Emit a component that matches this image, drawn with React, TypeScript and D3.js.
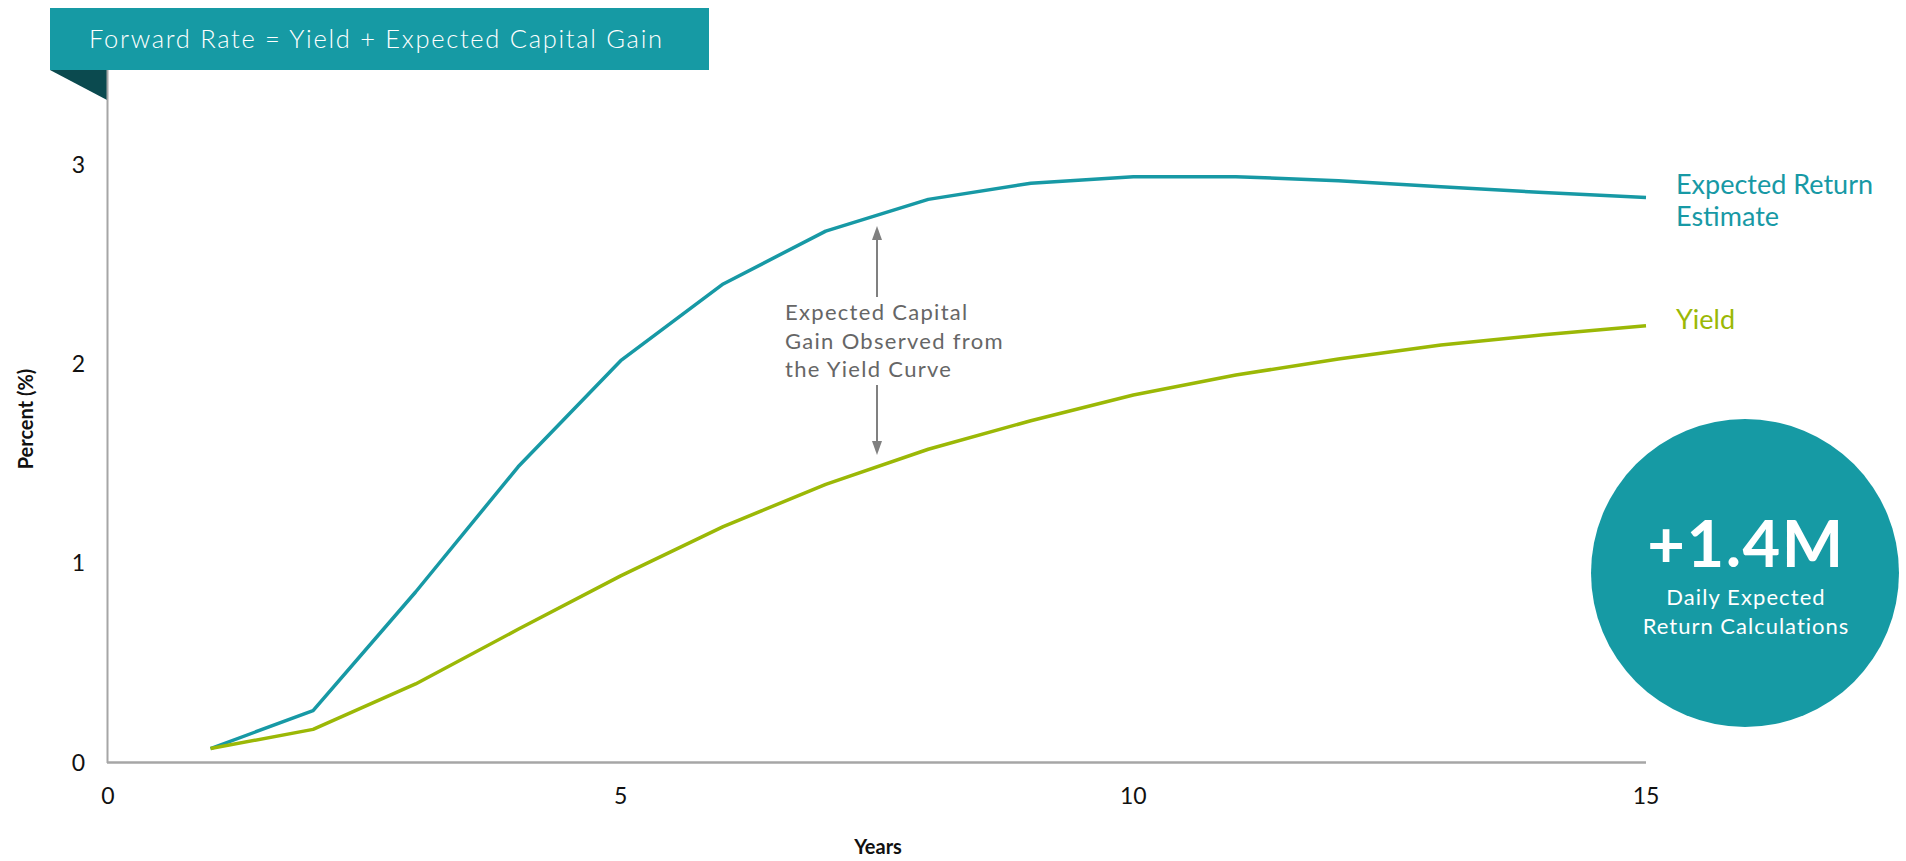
import * as d3 from "d3";

const years = [1, 2, 3, 4, 5, 6, 7, 8, 9, 10, 11, 12, 13, 14, 15];
const expectedReturn = [0.07, 0.26, 0.855, 1.483, 2.015, 2.4, 2.665, 2.824, 2.905, 2.938, 2.938, 2.918, 2.888, 2.858, 2.833];
const yieldCurve = [0.07, 0.166, 0.394, 0.668, 0.936, 1.183, 1.395, 1.571, 1.714, 1.843, 1.943, 2.024, 2.094, 2.145, 2.19];
const xTicks = [0, 5, 10, 15];
const yTicks = [0, 1, 2, 3];

const W = 1906;
const H = 861;
const teal = "#1799a5";
const green = "#9bb806";
const axisGrey = "#a6a6a6";
const font = "Lato, 'Open Sans', sans-serif";

export default function App() {
  const x = d3.scaleLinear().domain([0, 15]).range([108, 1646]);
  const y = d3.scaleLinear().domain([0, 3]).range([762.5, 164.3]);

  const line = d3
    .line<number>()
    .x((_, i) => x(years[i]))
    .y((d) => y(d));

  // arrow between the two curves
  const ax = x(7.5);
  const arrowTop = 226;
  const arrowBottom = 455;

  return (
    <svg
      width={W}
      height={H}
      style={{ position: "absolute", left: 0, top: 0, background: "#fff" }}
      fontFamily={font}
    >
      {/* title banner */}
      <rect x={50} y={8} width={659} height={62} fill="#169aa4" />
      <path d="M50,70 L107,70 L107,100 Z" fill="#0b4a4f" />
      <text x={89} y={48} fill="#fff" fontSize={25.5} fontWeight={300} letterSpacing={1.7}>
        Forward Rate = Yield + Expected Capital Gain
      </text>

      {/* axes */}
      <line x1={107.5} x2={107.5} y1={70} y2={763} stroke={axisGrey} strokeWidth={2} />
      <line x1={107} x2={1646} y1={762.5} y2={762.5} stroke={axisGrey} strokeWidth={2.5} />

      {yTicks.map((t) => (
        <text key={t} x={85} y={y(t)} dy="0.36em" textAnchor="end" fontSize={23} fill="#111">
          {t}
        </text>
      ))}
      {xTicks.map((t) => (
        <text key={t} x={x(t)} y={804} textAnchor="middle" fontSize={23} fill="#111">
          {t}
        </text>
      ))}

      <text x={878} y={854} textAnchor="middle" fontSize={20} fontWeight={700} fill="#111">
        Years
      </text>
      <text
        transform="translate(33,419) rotate(-90)"
        textAnchor="middle"
        fontSize={20}
        fontWeight={700}
        fill="#111"
      >
        Percent (%)
      </text>

      {/* series */}
      <path d={line(expectedReturn) ?? ""} fill="none" stroke={teal} strokeWidth={3.5} strokeLinejoin="round" />
      <path d={line(yieldCurve) ?? ""} fill="none" stroke={green} strokeWidth={3.5} strokeLinejoin="round" />

      <text x={1676} y={194} fill={teal} fontSize={27}>
        Expected Return
      </text>
      <text x={1676} y={226} fill={teal} fontSize={27}>
        Estimate
      </text>
      <text x={1676} y={329} fill={green} fontSize={27}>
        Yield
      </text>

      {/* annotation */}
      <g stroke="#808080" fill="#808080">
        <line x1={ax} x2={ax} y1={arrowTop + 12} y2={297} strokeWidth={2} />
        <path d={`M${ax},${arrowTop} L${ax - 5},${arrowTop + 14} L${ax + 5},${arrowTop + 14} Z`} stroke="none" />
        <line x1={ax} x2={ax} y1={385} y2={arrowBottom - 12} strokeWidth={2} />
        <path d={`M${ax},${arrowBottom} L${ax - 5},${arrowBottom - 14} L${ax + 5},${arrowBottom - 14} Z`} stroke="none" />
      </g>
      <g fill="#666" fontSize={22} letterSpacing={1.3}>
        <text x={785} y={320}>Expected Capital</text>
        <text x={785} y={348.5}>Gain Observed from</text>
        <text x={785} y={377}>the Yield Curve</text>
      </g>

      {/* stat bubble */}
      <circle cx={1745} cy={573} r={154} fill="#169aa4" />
      <text x={1746} y={567} textAnchor="middle" fill="#fff" fontSize={65} fontWeight={700} letterSpacing={1.5}>
        +1.4M
      </text>
      <text x={1746} y={605} textAnchor="middle" fill="#fff" fontSize={22} letterSpacing={1.1}>
        Daily Expected
      </text>
      <text x={1746} y={634} textAnchor="middle" fill="#fff" fontSize={22} letterSpacing={1}>
        Return Calculations
      </text>
    </svg>
  );
}
